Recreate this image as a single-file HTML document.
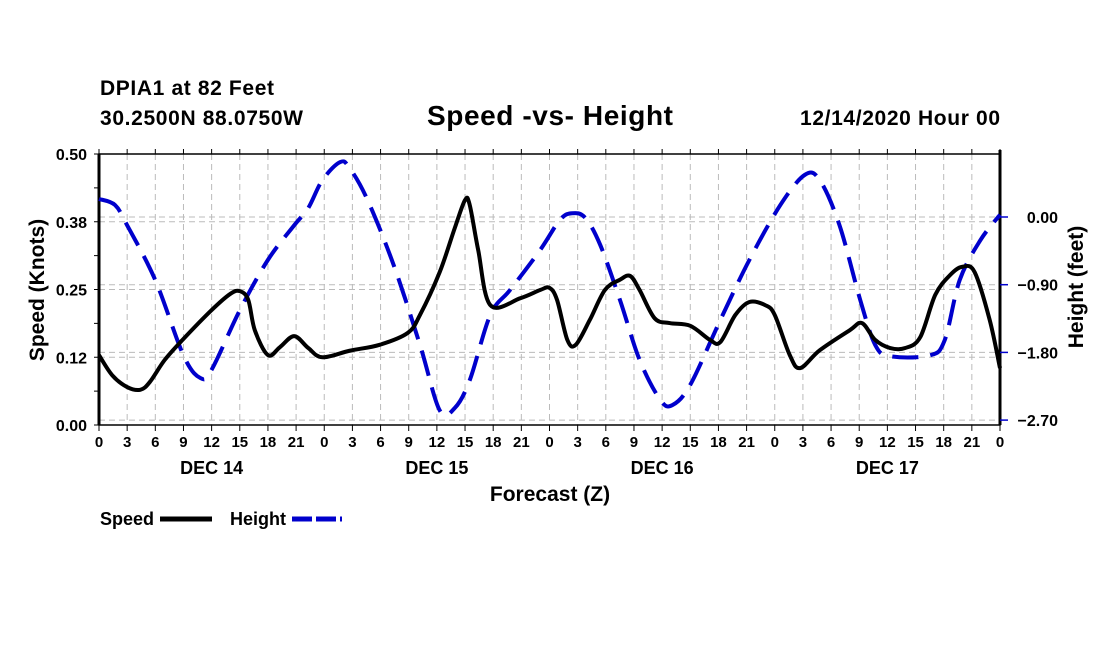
<!DOCTYPE html>
<html><head><meta charset="utf-8"><style>
body{margin:0;background:#fff;}
svg{display:block;font-family:"Liberation Sans",sans-serif;font-weight:bold;}
</style></head><body>
<svg id="c" width="1100" height="650" xmlns="http://www.w3.org/2000/svg">
<text x="100" y="95" font-size="21" textLength="174">DPIA1 at 82 Feet</text>
<text x="100" y="125" font-size="21" textLength="203">30.2500N 88.0750W</text>
<text x="427" y="125" font-size="28" textLength="246">Speed -vs- Height</text>
<text x="800" y="125" font-size="21" textLength="200">12/14/2020 Hour 00</text>
<g id="grid"></g><g id="axes"></g><g id="series"></g>
<text x="550" y="501" font-size="21" text-anchor="middle">Forecast (Z)</text>
<text transform="translate(44,290) rotate(-90)" font-size="21" text-anchor="middle">Speed (Knots)</text>
<text transform="translate(1083,287) rotate(-90)" font-size="21" text-anchor="middle">Height (feet)</text>
<g>
<text x="100" y="525" font-size="18">Speed</text>
<line x1="160" y1="519" x2="212" y2="519" stroke="#000" stroke-width="5"/>
<text x="230" y="525" font-size="18">Height</text>
<line x1="292" y1="519" x2="342" y2="519" stroke="#0000cc" stroke-width="5" stroke-dasharray="20,4"/>
</g>
</svg>
<script>
const speedHours=[0,1.4,3,4.4,5.4,7,8.9,12,14,15,15.9,16.6,18,19.3,20.8,22.3,23.8,26.7,29.9,32.9,34.2,36.3,37.9,39,39.5,40.4,41.7,44.9,47,48,48.8,49.9,50.8,52.3,53.9,55.5,56.6,57.6,59.2,60.8,63,65.1,66.2,67.8,69.3,71,72,73.6,74.7,76.8,80,81.3,82.7,84.3,85.9,87.5,89.1,90.7,92,93.3,94.9,96];
const speedValues=[.129,.092,.070,.065,.079,.120,.157,.212,.242,.247,.231,.175,.129,.144,.164,.142,.125,.137,.148,.170,.203,.282,.363,.415,.406,.323,.221,.234,.249,.253,.231,.157,.148,.194,.249,.268,.275,.249,.197,.188,.183,.157,.153,.203,.227,.221,.203,.129,.105,.138,.175,.188,.157,.142,.142,.162,.240,.277,.292,.282,.194,.105];
const heightHours=[0,1.7,3,6,9,10.8,12,15,18,20.8,22.3,23.8,25.7,26.7,28.6,31.4,34.2,36.3,37.9,39.5,41.7,43.8,47,49.1,50.4,51.8,53.4,55.5,57.6,59.8,61.1,63,66.2,69.3,72.6,75.2,76.8,78.9,81.1,82.7,84.3,88.5,90.1,91.7,93.9,96];
const heightValues=[.24,.16,-.11,-.84,-1.84,-2.14,-2.03,-1.24,-.57,-.11,.12,.49,.73,.65,.23,-.64,-1.70,-2.57,-2.54,-2.17,-1.30,-.97,-.44,-.04,.05,-.01,-.37,-1.10,-1.90,-2.43,-2.50,-2.23,-1.37,-.57,.16,.56,.49,-.11,-1.10,-1.70,-1.85,-1.84,-1.64,-.84,-.31,.03];
const xTickLabels=["0","3","6","9","12","15","18","21"];
const leftTicks=[0,0.125,0.25,0.375,0.5];
const leftTickLabels=["0.00","0.12","0.25","0.38","0.50"];
const rightTicks=[0,-0.9,-1.8,-2.7];
const rightTickLabels=["0.00","-0.90","-1.80","-2.70"];
const dayLabels=["DEC 14","DEC 15","DEC 16","DEC 17"];

const NS="http://www.w3.org/2000/svg";
const L=99,R=1000,T=154,B=425;
const xs=h=>L+h/96*(R-L);
const yl=v=>B-v/0.5*(B-T);
const yr=f=>217-f/0.9*67.7;
function mk(tag,attrs,parent,text){const e=document.createElementNS(NS,tag);for(const k in attrs)e.setAttribute(k,attrs[k]);if(text!==undefined)e.textContent=text;document.getElementById(parent).appendChild(e);return e;}
for(let i=1;i<32;i++){const x=xs(i*3);
const g=mk('line',{x1:x,y1:T,x2:x,y2:B,stroke:'#bbb','stroke-width':1,'stroke-dasharray':'6,4'},'grid');

}
leftTicks.forEach(v=>{const g=mk('line',{x1:L,y1:yl(v),x2:R,y2:yl(v),stroke:'#bbb','stroke-width':1,'stroke-dasharray':'6,4'},'grid');

});
rightTicks.forEach(v=>{const g=mk('line',{x1:L,y1:yr(v),x2:R,y2:yr(v),stroke:'#bbb','stroke-width':1,'stroke-dasharray':'6,4'},'grid');

});
const fr=mk('rect',{x:L,y:T,width:R-L,height:B-T,fill:'none',stroke:'#000','stroke-width':1.5},'axes');


const la=mk('line',{x1:L,y1:T,x2:L,y2:B,stroke:'#000','stroke-width':3},'axes');


const ra=mk('line',{x1:R,y1:T-4,x2:R,y2:B,stroke:'#000','stroke-width':3},'axes');


for(let i=0;i<=32;i++){const x=xs(i*3);
mk('line',{x1:x,y1:B,x2:x,y2:B+6,stroke:'#000','stroke-width':1},'axes');
mk('line',{x1:x,y1:T,x2:x,y2:T-5,stroke:'#000','stroke-width':1},'axes');
const t=mk('text',{x:x,y:B+22,'font-size':15,'text-anchor':'middle'},'axes',xTickLabels[i%8]);

}
dayLabels.forEach((d,i)=>{const t=mk('text',{x:xs(12+24*i),y:B+49,'font-size':18,'text-anchor':'middle'},'axes',d);

});
for(let v=0;v<=0.5001;v+=0.0625){mk('line',{x1:L-5,y1:yl(v),x2:L,y2:yl(v),stroke:'#000','stroke-width':1},'axes');}
leftTicks.forEach((v,i)=>{const t=mk('text',{x:L-12,y:yl(v)+6,'font-size':16,'text-anchor':'end'},'axes',leftTickLabels[i]);

});
rightTicks.forEach((v,i)=>{mk('line',{x1:R,y1:yr(v),x2:R+8,y2:yr(v),stroke:'#0000cc','stroke-width':1.5},'axes');
const t=mk('text',{x:R+58,y:yr(v)+6,'font-size':16,'text-anchor':'end'},'axes',rightTickLabels[i].replace('-','\u2212'));

});
function smooth(pts){let d='M'+pts[0][0]+','+pts[0][1];
for(let i=0;i<pts.length-1;i++){const p0=pts[Math.max(0,i-1)],p1=pts[i],p2=pts[i+1],p3=pts[Math.min(pts.length-1,i+2)];
const c1=[p1[0]+(p2[0]-p0[0])/6,p1[1]+(p2[1]-p0[1])/6],c2=[p2[0]-(p3[0]-p1[0])/6,p2[1]-(p3[1]-p1[1])/6];
d+=' C'+c1[0]+','+c1[1]+' '+c2[0]+','+c2[1]+' '+p2[0]+','+p2[1];}return d;}
const hp=mk('path',{d:smooth(heightHours.map((h,i)=>[xs(h),yr(heightValues[i])])),fill:'none',stroke:'#0000cc','stroke-width':4,'stroke-dasharray':'26,12'},'series');


const sp=mk('path',{d:smooth(speedHours.map((h,i)=>[xs(h),yl(speedValues[i])])),fill:'none',stroke:'#000','stroke-width':4},'series');


</script>
</body></html>
